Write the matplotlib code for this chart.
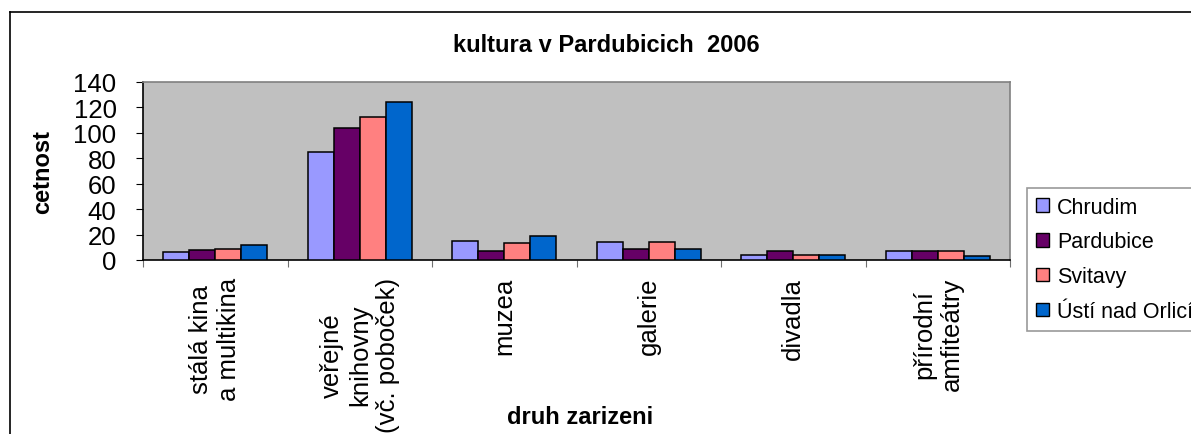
import matplotlib.pyplot as plt
import numpy as np
from matplotlib.lines import Line2D
from matplotlib.patches import Patch

plt.rcParams['font.family'] = ['Liberation Sans', 'DejaVu Sans']

categories = ['stálá kina\na multikina', 'veřejné\nknihovny\n(vč. poboček)', 'muzea',
              'galerie', 'divadla', 'přírodní\namfiteátry']
series = ['Chrudim', 'Pardubice', 'Svitavy', 'Ústí nad Orlicí']
chrudim = [6, 85, 15, 14, 4, 7]
pardubice = [8, 104, 7, 9, 7, 7]
svitavy = [9, 112, 13, 14, 4, 7]
usti = [12, 124, 19, 9, 4, 3]
colors = ['#9999FF', '#660066', '#FF8080', '#0066CC']

W, H = 1191, 435
fig = plt.figure(figsize=(W / 100, H / 100), dpi=100)
ax = fig.add_axes([143 / W, 1 - 261 / H, 867 / W, (261 - 82.7) / H])
ax.set_facecolor('#C0C0C0')

x = np.arange(len(categories))
bw = 0.18
for i, (vals, c) in enumerate(zip([chrudim, pardubice, svitavy, usti], colors)):
    ax.bar(x + (i - 1.5) * bw, vals, bw, color=c, edgecolor='black', linewidth=1.1, zorder=3)

ax.set_xlim(-0.5, len(categories) - 0.5)
ax.set_ylim(0, 140)
ax.set_yticks(np.arange(0, 141, 20))
ax.tick_params(axis='y', labelsize=18.5, length=5, width=0.8, pad=14, direction='out')

ax.set_xticks(np.arange(len(categories) + 1) - 0.5)
ax.set_xticklabels([])
ax.tick_params(axis='x', which='major', length=5, width=0.8, color='#707070', direction='out')
ax.set_xticks(x, minor=True)
ax.set_xticklabels(categories, minor=True, rotation=90, va='top', ha='center',
                   multialignment='center', fontsize=18.5)
ax.tick_params(axis='x', which='minor', length=0, pad=12)

for s in ['top', 'right']:
    ax.spines[s].set_color('#808080')
    ax.spines[s].set_linewidth(1.2)
ax.spines['left'].set_linewidth(1.2)
ax.spines['bottom'].set_linewidth(1.2)

fig.text(606 / W, 1 - 45 / H, 'kultura v Pardubicich  2006', ha='center', va='center',
         fontsize=17, fontweight='bold')
fig.text(43 / W, 1 - 172 / H, 'cetnost', rotation=90, ha='center', va='center',
         fontsize=17, fontweight='bold')
fig.text(580 / W, 1 - 418 / H, 'druh zarizeni', ha='center', va='center',
         fontsize=17, fontweight='bold')

handles = [Patch(facecolor=c, edgecolor='black', linewidth=1.0) for c in colors]
leg = fig.legend(handles, series, loc='upper left', bbox_to_anchor=(1027 / W, 1 - 189 / H),
                 fontsize=15.5, frameon=True, fancybox=False, edgecolor='#808080',
                 handlelength=0.6, handleheight=0.6, handletextpad=0.4,
                 labelspacing=0.64, borderpad=0.4, borderaxespad=0)
leg.get_frame().set_linewidth(1.2)

# outer chart frame (cut off at right and bottom)
x0, y0 = 10 / W, 1 - 13 / H
fig.add_artist(Line2D([x0, x0], [0, y0], color='black', linewidth=1.2))
fig.add_artist(Line2D([x0, 1], [y0, y0], color='black', linewidth=1.2))

fig.savefig('out.png', dpi=100)
